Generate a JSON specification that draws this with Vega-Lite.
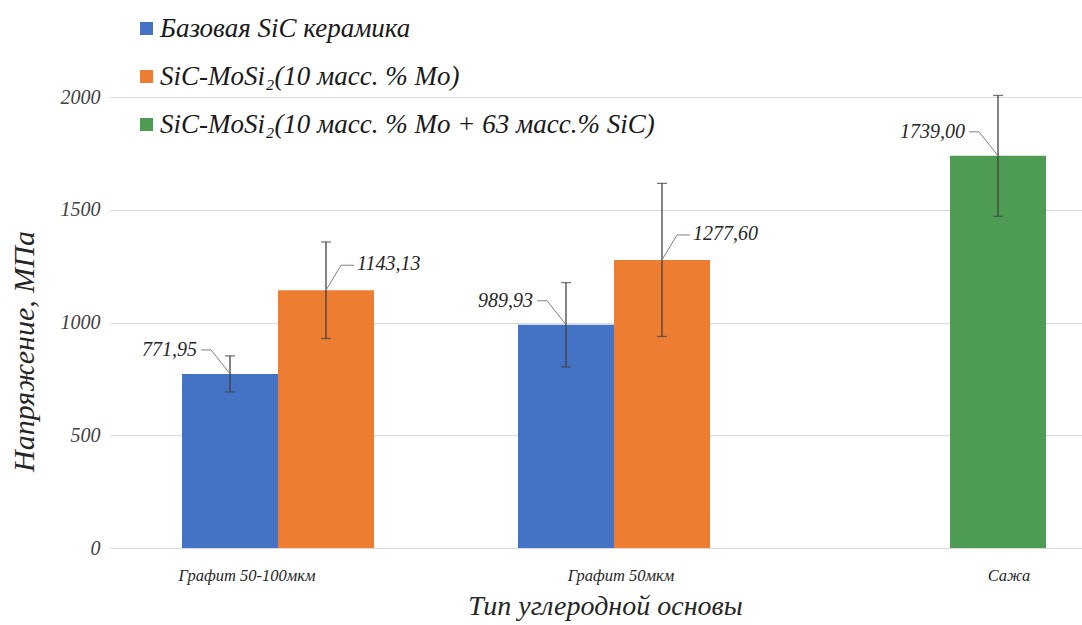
{
  "$schema": "https://vega.github.io/schema/vega-lite/v6.json",
  "autosize": "none",
  "width": 972,
  "height": 451,
  "padding": {"left": 110, "top": 97, "right": 0, "bottom": 77},
  "background": "white",
  "config": {
    "view": {"stroke": null},
    "locale": {"number": {"decimal": ",", "thousands": "", "grouping": [3], "currency": ["", ""]}},
    "font": "Liberation Serif"
  },
  "data": {
    "values": [
      {"cat": "Графит 50-100мкм", "series": "Базовая SiC керамика", "col": "1", "value": 771.95, "lo": 692, "hi": 852},
      {"cat": "Графит 50-100мкм", "series": "SiC-MoSi₂(10 масс. % Mo)", "col": "2", "value": 1143.13, "lo": 929, "hi": 1357},
      {"cat": "Графит 50мкм", "series": "Базовая SiC керамика", "col": "1", "value": 989.93, "lo": 803, "hi": 1177},
      {"cat": "Графит 50мкм", "series": "SiC-MoSi₂(10 масс. % Mo)", "col": "2", "value": 1277.60, "lo": 938, "hi": 1617},
      {"cat": "Сажа", "series": "SiC-MoSi₂(10 масс. % Mo + 63 масс.% SiC)", "col": "2", "value": 1739.00, "lo": 1471, "hi": 2007}
    ]
  },
  "encoding": {
    "x": {
      "field": "cat", "type": "nominal",
      "scale": {"domain": ["Графит 50-100мкм", "Графит 50мкм", "Сажа"], "range": [0, 1008], "paddingInner": 0.4286, "paddingOuter": 0.2143},
      "axis": {
        "title": "Тип углеродной основы",
        "titleFont": "Liberation Serif", "titleFontStyle": "italic", "titleFontWeight": "normal", "titleFontSize": 28, "titleColor": "#262626",
        "titleX": 495, "titleY": 58, "titleBaseline": "middle", "titleAlign": "center",
        "labelFont": "Liberation Serif", "labelFontStyle": "italic", "labelFontSize": 16.5, "labelColor": "#262626",
        "labelAngle": 0, "labelPadding": 19,
        "labelOffset": {"condition": [{"test": "datum.value === 'Сажа'", "value": 59}, {"test": "datum.value === 'Графит 50мкм'", "value": 7}], "value": -31},
        "domain": false, "ticks": false
      }
    },
    "xOffset": {"field": "col", "type": "nominal", "scale": {"domain": ["1", "2"], "paddingInner": 0, "paddingOuter": 0}}
  },
  "layer": [
    {
      "mark": {"type": "bar"},
      "encoding": {
        "y": {
          "field": "value", "type": "quantitative",
          "scale": {"domain": [0, 2000], "nice": false},
          "axis": {
            "title": "Напряжение, МПа",
            "titleFont": "Liberation Serif", "titleFontStyle": "italic", "titleFontWeight": "normal", "titleFontSize": 30, "titleColor": "#262626",
            "titleX": -86, "titleY": 254, "titleBaseline": "middle", "titleAlign": "center",
            "values": [0, 500, 1000, 1500, 2000],
            "labelFont": "Liberation Serif", "labelFontStyle": "italic", "labelFontSize": 20, "labelColor": "#404040",
            "labelPadding": 10, "domain": false, "ticks": false,
            "gridColor": "#d9d9d9", "gridWidth": 1
          }
        },
        "color": {
          "field": "series", "type": "nominal",
          "scale": {
            "domain": ["Базовая SiC керамика", "SiC-MoSi₂(10 масс. % Mo)", "SiC-MoSi₂(10 масс. % Mo + 63 масс.% SiC)"],
            "range": ["#4472C4", "#ED7D31", "#4E9C53"]
          },
          "legend": {
            "title": null, "orient": "none", "legendX": 23, "legendY": -82, "padding": 0,
            "symbolType": "square", "symbolSize": 169, "symbolStrokeWidth": 0,
            "labelFont": "Liberation Serif", "labelFontStyle": "italic", "labelFontSize": 27, "labelColor": "#1a1a1a",
            "labelOffset": 0, "rowPadding": 20, "labelLimit": 800
          }
        }
      }
    },
    {
      "mark": {"type": "rule", "color": "#404040", "strokeWidth": 1.3},
      "encoding": {"y": {"field": "lo", "type": "quantitative"}, "y2": {"field": "hi"}}
    },
    {
      "mark": {"type": "tick", "color": "#404040", "size": 10, "thickness": 1.3},
      "encoding": {"y": {"field": "lo", "type": "quantitative"}}
    },
    {
      "mark": {"type": "tick", "color": "#404040", "size": 10, "thickness": 1.3},
      "encoding": {"y": {"field": "hi", "type": "quantitative"}}
    },
    {
      "transform": [{"filter": "datum.col === '1' || datum.cat === 'Сажа'"}],
      "mark": {"type": "point", "shape": "M0,0L-0.59,-0.75L-0.9,-0.75", "size": 4096, "filled": false, "stroke": "#808080", "strokeWidth": 1, "opacity": 1},
      "encoding": {"y": {"field": "value", "type": "quantitative"}}
    },
    {
      "transform": [{"filter": "datum.col === '2' && datum.cat !== 'Сажа'"}],
      "mark": {"type": "point", "shape": "M0,0L0.47,-0.78L0.875,-0.78", "size": 4096, "filled": false, "stroke": "#808080", "strokeWidth": 1, "opacity": 1},
      "encoding": {"y": {"field": "value", "type": "quantitative"}}
    },
    {
      "transform": [{"filter": "datum.col === '1' || datum.cat === 'Сажа'"}],
      "mark": {"type": "text", "align": "right", "baseline": "middle", "dx": -33, "dy": -24, "font": "Liberation Serif", "fontStyle": "italic", "fontSize": 20, "color": "#262626"},
      "encoding": {"y": {"field": "value", "type": "quantitative"}, "text": {"field": "value", "type": "quantitative", "format": ".2f"}}
    },
    {
      "transform": [{"filter": "datum.col === '2' && datum.cat !== 'Сажа'"}],
      "mark": {"type": "text", "align": "left", "baseline": "middle", "dx": 31, "dy": -26, "font": "Liberation Serif", "fontStyle": "italic", "fontSize": 20, "color": "#262626"},
      "encoding": {"y": {"field": "value", "type": "quantitative"}, "text": {"field": "value", "type": "quantitative", "format": ".2f"}}
    }
  ]
}
